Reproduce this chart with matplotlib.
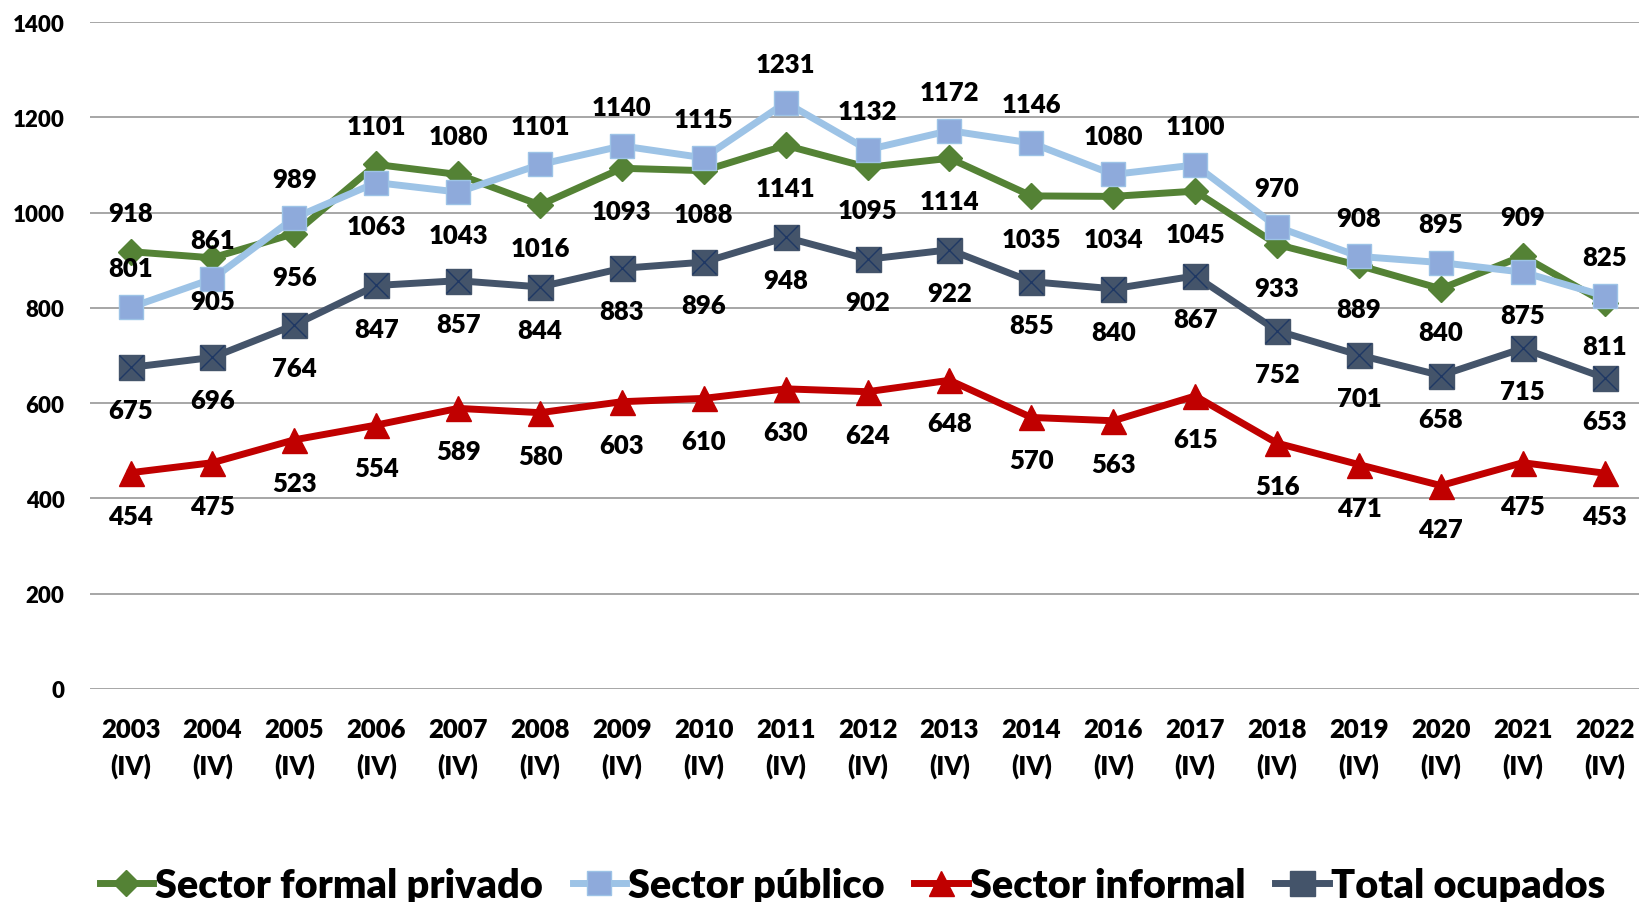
import matplotlib
matplotlib.use("Agg")
import matplotlib.pyplot as plt
from matplotlib.lines import Line2D

plt.rcParams['font.family'] = ['Lato', 'DejaVu Sans']
W = 'heavy'
plt.rcParams['font.weight'] = W

years = ["2003", "2004", "2005", "2006", "2007", "2008", "2009", "2010", "2011",
         "2012", "2013", "2014", "2016", "2017", "2018", "2019", "2020", "2021", "2022"]
categories = [f"{y}\n(IV)" for y in years]

formal_privado = [918, 905, 956, 1101, 1080, 1016, 1093, 1088, 1141, 1095, 1114,
                  1035, 1034, 1045, 933, 889, 840, 909, 811]
sector_publico = [801, 861, 989, 1063, 1043, 1101, 1140, 1115, 1231, 1132, 1172,
                  1146, 1080, 1100, 970, 908, 895, 875, 825]
sector_informal = [454, 475, 523, 554, 589, 580, 603, 610, 630, 624, 648,
                   570, 563, 615, 516, 471, 427, 475, 453]
total_ocupados = [675, 696, 764, 847, 857, 844, 883, 896, 948, 902, 922,
                  855, 840, 867, 752, 701, 658, 715, 653]

# label placement: +1 above, -1 below
pos_formal = [1, -1, -1, 1, 1, -1, -1, -1, -1, -1, -1, -1, -1, -1, -1, -1, -1, 1, -1]
pos_publico = [1, 1, 1, -1, -1, 1, 1, 1, 1, 1, 1, 1, 1, 1, 1, 1, 1, -1, 1]
pos_informal = [-1] * 19
pos_total = [-1] * 19

C_GREEN = "#548235"
C_BLUE_L = "#9DC3E6"
C_BLUE_M = "#8EAADB"
C_RED = "#C00000"
C_NAVY = "#44546A"
C_NAVY_E = "#1F3864"

fig = plt.figure(figsize=(16.39, 9.03), dpi=100)
ax = fig.add_axes([0.0547, 0.2359, 0.9493, 0.7386])
x = list(range(len(categories)))

ax.set_ylim(0, 1400)
ax.set_xlim(-0.5, len(categories) - 0.5)
ax.set_yticks(range(0, 1401, 200))
ax.yaxis.grid(True, color="#A6A6A6", linewidth=1.4)
ax.set_axisbelow(True)
for s in ax.spines.values():
    s.set_visible(False)
ax.tick_params(axis='both', length=0)
ax.tick_params(axis='y', pad=18, labelsize=16)
ax.tick_params(axis='x', pad=20)
ax.set_xticks(x)
ax.set_xticklabels(categories, fontsize=18.5, fontweight=W, linespacing=1.55)
for t in ax.get_yticklabels():
    t.set_fontweight(W)

lw = 5
ax.plot(x, formal_privado, color=C_GREEN, lw=lw, marker='D', ms=13,
        mfc=C_GREEN, mec=C_GREEN, zorder=3)
ax.plot(x, sector_publico, color=C_BLUE_L, lw=lw, marker='s', ms=17,
        mfc=C_BLUE_M, mec=C_BLUE_L, zorder=4)
ax.plot(x, sector_informal, color=C_RED, lw=lw, marker='^', ms=18,
        mfc=C_RED, mec=C_RED, zorder=3)
ax.plot(x, total_ocupados, color=C_NAVY, lw=lw, marker='s', ms=18,
        mfc=C_NAVY, mec=C_NAVY, zorder=3)
ax.plot(x, total_ocupados, ls='none', marker='x', ms=17, mew=1.0,
        mec=C_NAVY_E, zorder=3.5)

def labels(vals, pos):
    for xi, v, p in zip(x, vals, pos):
        off = 28 if p > 0 else 31
        ax.annotate(str(v), (xi, v), xytext=(0, off * p), textcoords='offset points',
                    ha='center', va='center', fontsize=18.5, fontweight=W,
                    color='black', zorder=6)

labels(formal_privado, pos_formal)
labels(sector_publico, pos_publico)
labels(sector_informal, pos_informal)
labels(total_ocupados, pos_total)

handles = [
    Line2D([], [], color=C_GREEN, lw=lw, marker='D', ms=13, mfc=C_GREEN, mec=C_GREEN),
    Line2D([], [], color=C_BLUE_L, lw=lw, marker='s', ms=17, mfc=C_BLUE_M, mec=C_BLUE_L),
    Line2D([], [], color=C_RED, lw=lw, marker='^', ms=18, mfc=C_RED, mec=C_RED),
    Line2D([], [], color=C_NAVY, lw=lw, marker='s', ms=18, mfc=C_NAVY, mec=C_NAVY),
]
names = ["Sector formal privado", "Sector público", "Sector informal", "Total ocupados"]
fig.legend(handles, names, loc='center', bbox_to_anchor=(0.52, 0.018), ncol=4,
           frameon=False, prop={'size': 28.5, 'weight': W}, handlelength=1.35,
           handletextpad=0.05, columnspacing=0.75, borderaxespad=0)

fig.savefig("out.png", dpi=100)
